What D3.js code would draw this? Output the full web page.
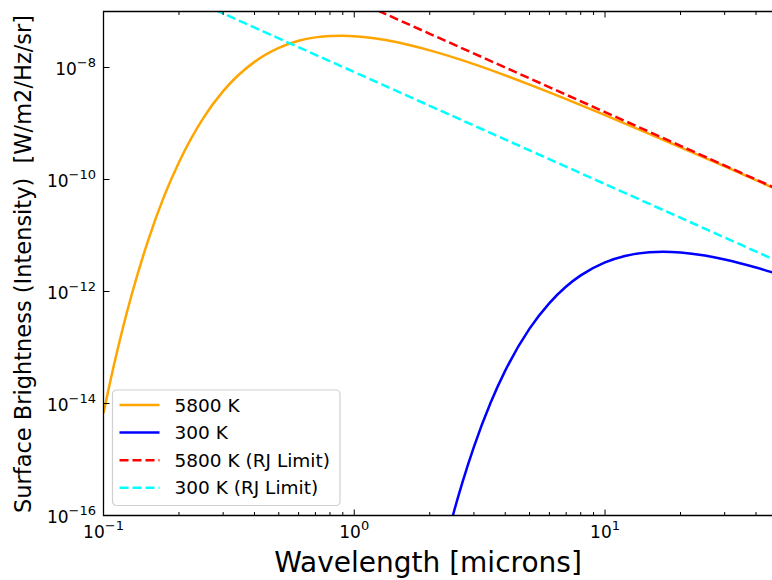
<!DOCTYPE html>
<html>
<head>
<meta charset="utf-8">
<script src="https://cdn.jsdelivr.net/npm/d3@7/dist/d3.min.js"></script>
<style>
  body { margin: 0; background: #fff; }
  svg { font-family: "DejaVu Sans", sans-serif; }
</style>
</head>
<body>
<svg id="chart" width="772" height="580"></svg>
<script>
// wavelengths (microns) and intensities
var wave5800 = [0.1, 0.105, 0.11, 0.12, 0.13, 0.15, 0.175, 0.2, 0.25, 0.3, 0.4, 0.5, 0.6, 0.7, 0.8, 0.9, 1.0, 1.2, 1.5, 2, 3, 5, 7, 10, 15, 20, 30, 50];
var sun5800 = [6.7e-15, 1.89e-14, 4.8e-14, 2.42e-13, 9.3e-13, 7.7e-12, 5.2e-11, 2.04e-10, 1.25e-9, 3.78e-9, 1.26e-8, 2.24e-8, 3.0e-8, 3.45e-8, 3.66e-8, 3.70e-8, 3.63e-8, 3.33e-8, 2.79e-8, 2.02e-8, 1.15e-8, 4.95e-9, 2.73e-9, 1.41e-9, 6.55e-10, 3.76e-10, 1.71e-10, 6.25e-11];

var wave300 = [2.4, 2.5, 2.7, 3, 3.5, 4, 5, 6, 7, 8, 10, 12, 15, 17, 20, 25, 30, 40, 50];
var earth300 = [6.0e-17, 1.19e-16, 3.9e-16, 1.68e-15, 1.04e-14, 3.86e-14, 2.17e-13, 6.22e-13, 1.23e-12, 1.94e-12, 3.31e-12, 4.31e-12, 5.02e-12, 5.12e-12, 4.97e-12, 4.38e-12, 3.73e-12, 2.68e-12, 1.98e-12];

var waveRJ5800 = [1.0, 2, 5, 10, 20, 50];
var rj5800 = [1.6e-7, 4.0e-8, 6.4e-9, 1.6e-9, 4.0e-10, 6.4e-11];

var waveRJ300 = [0.25, 0.5, 1, 2, 5, 10, 20, 50];
var rj300 = [1.33e-7, 3.31e-8, 8.29e-9, 2.07e-9, 3.31e-10, 8.29e-11, 2.07e-11, 3.31e-12];

var seriesNames = ["5800 K", "300 K", "5800 K (RJ Limit)", "300 K (RJ Limit)"];
var seriesColors = ["orange", "blue", "red", "cyan"];
var seriesDash = [null, null, "9,4", "9,4"];

var xTickExp = [-1, 0, 1];
var yTickExp = [-16, -14, -12, -10, -8];

var svg = d3.select("#chart");
var mLeft = 103.5, mTop = 11.5, mBottom = 515.5, mRight = 780.3;

var x = d3.scaleLog().domain([0.1, 50]).range([mLeft, mRight]);
var y = d3.scaleLog().domain([1e-16, 1e-7]).range([mBottom, mTop]);

svg.append("defs").append("clipPath").attr("id", "clip")
  .append("rect").attr("x", mLeft).attr("y", mTop)
  .attr("width", mRight - mLeft).attr("height", mBottom - mTop);

var line = d3.line()
  .x(function(d) { return x(d[0]); })
  .y(function(d) { return y(d[1]); })
  .curve(d3.curveMonotoneX);

var series = [
  d3.zip(wave5800, sun5800),
  d3.zip(wave300, earth300),
  d3.zip(waveRJ5800, rj5800),
  d3.zip(waveRJ300, rj300)
];

var plot = svg.append("g").attr("clip-path", "url(#clip)");
series.forEach(function(s, i) {
  plot.append("path")
    .datum(s)
    .attr("d", line)
    .attr("fill", "none")
    .attr("stroke", seriesColors[i])
    .attr("stroke-width", 2.5)
    .attr("stroke-dasharray", seriesDash[i]);
});

// x ticks: majors at decades, minors at 2..9
var minorX = [];
[0.1, 1, 10].forEach(function(dec) {
  for (var k = 2; k <= 9; k++) { if (dec * k <= 50) minorX.push(dec * k); }
});
var ticks = svg.append("g").attr("stroke", "#000").attr("stroke-width", 1);
minorX.forEach(function(v) {
  ticks.append("line").attr("x1", x(v)).attr("x2", x(v)).attr("y1", mBottom).attr("y2", mBottom - 3.5);
  ticks.append("line").attr("x1", x(v)).attr("x2", x(v)).attr("y1", mTop).attr("y2", mTop + 3.5);
});
xTickExp.forEach(function(e) {
  var v = Math.pow(10, e);
  ticks.append("line").attr("x1", x(v)).attr("x2", x(v)).attr("y1", mBottom).attr("y2", mBottom - 6);
  ticks.append("line").attr("x1", x(v)).attr("x2", x(v)).attr("y1", mTop).attr("y2", mTop + 6);
});
yTickExp.forEach(function(e) {
  var v = Math.pow(10, e);
  ticks.append("line").attr("x1", mLeft).attr("x2", mLeft + 6).attr("y1", y(v)).attr("y2", y(v));
});

function powLabel(g, e, px, py, anchor) {
  var t = g.append("text").attr("x", px).attr("y", py)
    .attr("text-anchor", anchor).attr("font-size", 17).attr("fill", "#000");
  t.append("tspan").text("10");
  t.append("tspan").attr("dy", -8).attr("font-size", 13)
    .text(e < 0 ? "\u2212" + (-e) : String(e));
}

var labels = svg.append("g");
xTickExp.forEach(function(e) { powLabel(labels, e, x(Math.pow(10, e)), mBottom + 22, "middle"); });
yTickExp.forEach(function(e) { powLabel(labels, e, mLeft - 7.5, y(Math.pow(10, e)) + 7, "end"); });

// spines (right one is off the page)
svg.append("path")
  .attr("d", "M" + mRight + "," + mTop + "H" + mLeft + "V" + mBottom + "H" + mRight)
  .attr("fill", "none").attr("stroke", "#000").attr("stroke-width", 1.3);

svg.append("text")
  .attr("x", 428).attr("y", 572)
  .attr("text-anchor", "middle").attr("font-size", 28)
  .text("Wavelength [microns]");

svg.append("text")
  .attr("transform", "translate(31,264) rotate(-90)")
  .attr("text-anchor", "middle").attr("font-size", 22.5)
  .attr("xml:space", "preserve")
  .style("white-space", "pre")
  .text("Surface Brightness (Intensity)  [W/m2/Hz/sr]");

// legend
var lg = svg.append("g").attr("transform", "translate(112.5,390)");
lg.append("rect").attr("width", 227.5).attr("height", 115.5).attr("rx", 4)
  .attr("fill", "#fff").attr("fill-opacity", 0.8)
  .attr("stroke", "#d0d0d0").attr("stroke-width", 1.2);
seriesNames.forEach(function(name, i) {
  var ry = 15 + i * 27.6;
  lg.append("line").attr("x1", 7).attr("x2", 47).attr("y1", ry).attr("y2", ry)
    .attr("stroke", seriesColors[i]).attr("stroke-width", 2.5)
    .attr("stroke-dasharray", seriesDash[i]);
  lg.append("text").attr("x", 62).attr("y", ry + 6.5)
    .attr("font-size", 18.5).text(name);
});
</script>
</body>
</html>
